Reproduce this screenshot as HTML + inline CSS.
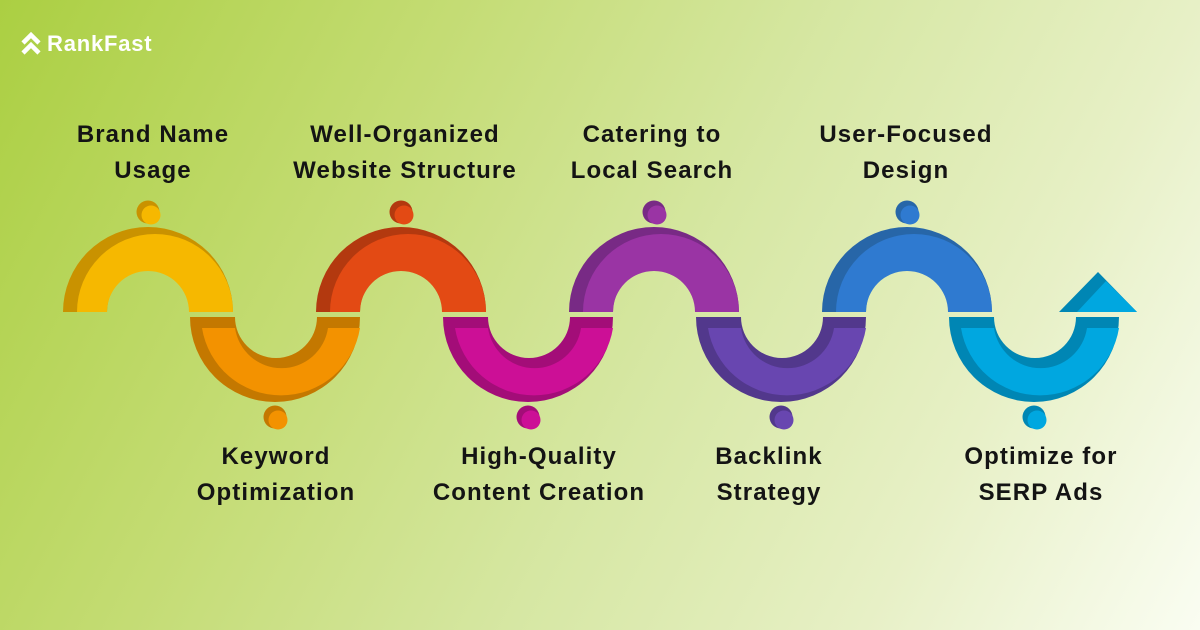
<!DOCTYPE html>
<html><head><meta charset="utf-8"><style>
html,body{margin:0;padding:0}
body{width:1200px;height:630px;overflow:hidden;position:relative;background:linear-gradient(118deg,#abcf42 0%,#c4dc74 30%,#d6e7a3 55%,#e7f0c6 78%,#fafdf2 100%);font-family:"Liberation Sans",sans-serif}
.t{position:absolute;width:340px;margin-left:-170px;text-align:center;font-size:24px;font-weight:bold;line-height:36px;color:#141414;letter-spacing:1.1px}
.logo{position:absolute;left:47px;top:31px;color:#fff;font-weight:bold;font-size:22px;letter-spacing:0.8px}
</style></head><body>
<svg width="1200" height="630" style="position:absolute;left:0;top:0">
<g fill="none" stroke="#fff" stroke-width="4.5" stroke-linejoin="miter"><polyline points="23,43 31,35 39,43"/><polyline points="23,53 31,45 39,53"/></g>
</svg>
<div class="logo">RankFast</div>
<div class="t" style="left:153px;top:117px">Brand Name<br>Usage</div>
<div class="t" style="left:405px;top:117px">Well-Organized<br>Website Structure</div>
<div class="t" style="left:652px;top:117px">Catering to<br>Local Search</div>
<div class="t" style="left:906px;top:117px">User-Focused<br>Design</div>
<div class="t" style="left:276px;top:439px">Keyword<br>Optimization</div>
<div class="t" style="left:539px;top:439px">High-Quality<br>Content Creation</div>
<div class="t" style="left:769px;top:439px">Backlink<br>Strategy</div>
<div class="t" style="left:1041px;top:439px">Optimize for<br>SERP Ads</div>
<svg width="1200" height="630" style="position:absolute;left:0;top:0">
<g>
<path fill="#c99200" d="M63,312 A85 85 0 0 1 233,312 L197,312 A45 45 0 0 0 107,312 Z"/>
<path fill="#f6b800" d="M77,312 A78 78 0 0 1 233,312 L189,312 A41 41 0 0 0 107,312 Z"/>
<circle cx="148" cy="212" r="11.5" fill="#c99200"/><circle cx="151" cy="215" r="9.5" fill="#f6b800"/>
</g>
<g transform="translate(253,0)">
<path fill="#b3390f" d="M63,312 A85 85 0 0 1 233,312 L197,312 A45 45 0 0 0 107,312 Z"/>
<path fill="#e34a14" d="M77,312 A78 78 0 0 1 233,312 L189,312 A41 41 0 0 0 107,312 Z"/>
<circle cx="148" cy="212" r="11.5" fill="#b3390f"/><circle cx="151" cy="215" r="9.5" fill="#e34a14"/>
</g>
<g transform="translate(506,0)">
<path fill="#782a85" d="M63,312 A85 85 0 0 1 233,312 L197,312 A45 45 0 0 0 107,312 Z"/>
<path fill="#9a34a4" d="M77,312 A78 78 0 0 1 233,312 L189,312 A41 41 0 0 0 107,312 Z"/>
<circle cx="148" cy="212" r="11.5" fill="#782a85"/><circle cx="151" cy="215" r="9.5" fill="#9a34a4"/>
</g>
<g transform="translate(759,0)">
<path fill="#2766a8" d="M63,312 A85 85 0 0 1 233,312 L197,312 A45 45 0 0 0 107,312 Z"/>
<path fill="#2f7ad0" d="M77,312 A78 78 0 0 1 233,312 L189,312 A41 41 0 0 0 107,312 Z"/>
<circle cx="148" cy="212" r="11.5" fill="#2766a8"/><circle cx="151" cy="215" r="9.5" fill="#2f7ad0"/>
</g>
<g>
<path fill="#c47800" d="M190,317 A85 85 0 0 0 360,317 L317,317 A41 41 0 0 1 235,317 Z"/>
<path fill="#f39200" d="M202,328 A80 80 0 0 0 360,328 L328,328 A47 47 0 0 1 235,328 Z"/>
<circle cx="275" cy="417" r="11.5" fill="#c47800"/><circle cx="278" cy="420" r="9.5" fill="#f39200"/>
</g>
<g transform="translate(253,0)">
<path fill="#a30d78" d="M190,317 A85 85 0 0 0 360,317 L317,317 A41 41 0 0 1 235,317 Z"/>
<path fill="#cc0f96" d="M202,328 A80 80 0 0 0 360,328 L328,328 A47 47 0 0 1 235,328 Z"/>
<circle cx="275" cy="417" r="11.5" fill="#a30d78"/><circle cx="278" cy="420" r="9.5" fill="#cc0f96"/>
</g>
<g transform="translate(506,0)">
<path fill="#52388c" d="M190,317 A85 85 0 0 0 360,317 L317,317 A41 41 0 0 1 235,317 Z"/>
<path fill="#6846b0" d="M202,328 A80 80 0 0 0 360,328 L328,328 A47 47 0 0 1 235,328 Z"/>
<circle cx="275" cy="417" r="11.5" fill="#52388c"/><circle cx="278" cy="420" r="9.5" fill="#6846b0"/>
</g>
<g transform="translate(759,0)">
<path fill="#0086b4" d="M190,317 A85 85 0 0 0 360,317 L317,317 A41 41 0 0 1 235,317 Z"/>
<path fill="#00a7e0" d="M202,328 A80 80 0 0 0 360,328 L328,328 A47 47 0 0 1 235,328 Z"/>
<circle cx="275" cy="417" r="11.5" fill="#0086b4"/><circle cx="278" cy="420" r="9.5" fill="#00a7e0"/>
</g>
<polygon fill="#0086b4" points="1059,312 1098,272 1137,312"/>
<polygon fill="#00a7e0" points="1077,312 1106,281 1137,312"/>
</svg>
</body></html>
